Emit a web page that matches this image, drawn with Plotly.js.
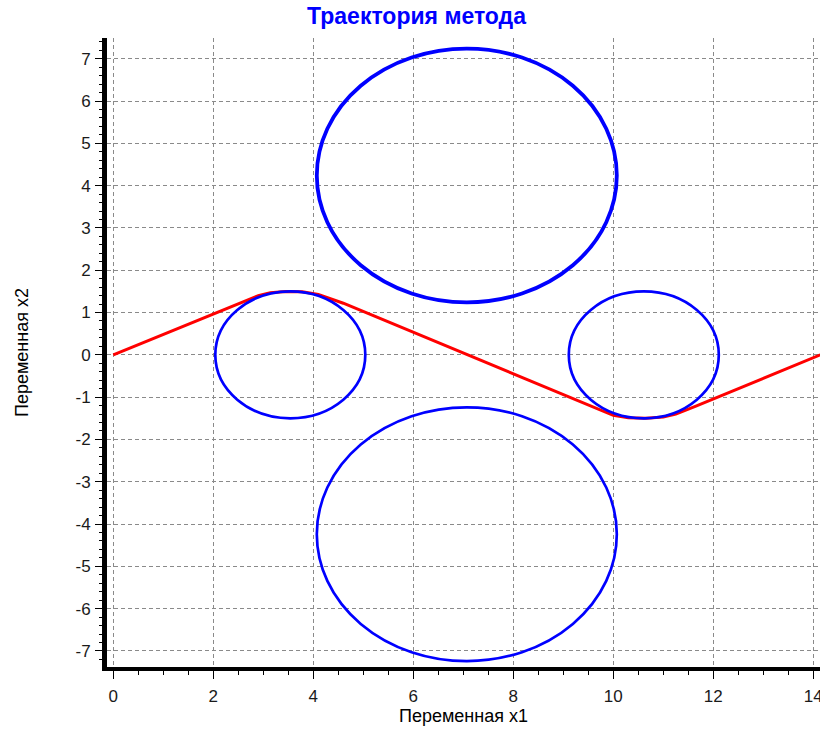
<!DOCTYPE html>
<html>
<head>
<meta charset="utf-8">
<script src="https://cdn.plot.ly/plotly-3.0.1.min.js"></script>
<style>html,body{margin:0;padding:0;background:#fff;}#chart{width:820px;height:729px;}</style>
</head>
<body>
<div id="chart"></div>
<script>
// Trajectory of the method (red line)
const pathX = [0, 2.5, 2.9, 3.14, 3.45, 3.78, 4.1, 4.6, 7.07, 9.55, 10.0, 10.3, 10.65, 11.0, 11.25, 11.64, 14.14];
const pathY = [0, 1.22, 1.4, 1.47, 1.5, 1.49, 1.43, 1.22, 0, -1.22, -1.43, -1.49, -1.5, -1.47, -1.4, -1.22, 0];

// Constraint circles (blue)
const circleCx = [3.54, 10.61, 7.07, 7.07];
const circleCy = [0, 0, 4.24, -4.24];
const circleR  = [1.5, 1.5, 3.0, 3.0];

const xTickVals = [0, 2, 4, 6, 8, 10, 12, 14];
const yTickVals = [-7, -6, -5, -4, -3, -2, -1, 0, 1, 2, 3, 4, 5, 6, 7];

const titleText = 'Траектория метода';
const xTitle = 'Переменная x1';
const yTitle = 'Переменная x2';

const circleWidths = [2.7, 2.7, 3.8, 2.7];
const shapes = circleCx.map((cx, i) => ({
  type: 'circle', xref: 'x', yref: 'y',
  x0: cx - circleR[i], x1: cx + circleR[i],
  y0: circleCy[i] - circleR[i], y1: circleCy[i] + circleR[i],
  line: {color: '#0000ff', width: circleWidths[i]},
  layer: 'above'
}));

const traces = [{
  x: pathX, y: pathY, type: 'scatter', mode: 'lines',
  line: {color: '#ff0000', width: 3}, showlegend: false, hoverinfo: 'skip'
}];

const FONT = 'Liberation Sans, Arial, sans-serif';
const tickFont = {family: FONT, size: 17, color: '#1a1a1a'};
const layout = {
  width: 820, height: 729,
  margin: {l: 107, r: 0, t: 38, b: 62},
  paper_bgcolor: '#fff', plot_bgcolor: '#fff',
  showlegend: false,
  title: {
    text: '<b>' + titleText + '</b>',
    font: {family: FONT, size: 23, color: '#0000ff'},
    x: 0.508, xref: 'container', xanchor: 'center', y: 0.9775, yref: 'container', yanchor: 'middle'
  },
  xaxis: {
    range: [-0.126, 14.134], tickvals: xTickVals, ticktext: xTickVals.map(String),
    ticks: 'outside', ticklen: 8, tickwidth: 1, tickcolor: '#000',
    ticklabelstandoff: 3, ticklabeloverflow: 'allow',
    minor: {dtick: 0.5, ticks: 'outside', ticklen: 4, tickcolor: '#000', showgrid: false},
    showgrid: true, gridcolor: '#8a8a8a', griddash: '4px,3px', gridwidth: 1,
    zeroline: false, showline: true, linecolor: '#000', linewidth: 4,
    tickfont: tickFont,
    title: {text: xTitle, font: {family: FONT, size: 18, color: '#000'}, standoff: 4},
    fixedrange: true
  },
  xaxis2: {
    overlaying: 'x', side: 'top', range: [-0.126, 14.134], tickvals: xTickVals,
    showticklabels: false, ticks: 'inside', ticklen: 7, tickcolor: '#000',
    showgrid: false, zeroline: false, showline: true, linecolor: '#000', linewidth: 1.5
  },
  yaxis: {
    range: [-7.38, 7.49], tickvals: yTickVals, ticktext: yTickVals.map(String),
    ticks: 'outside', ticklen: 7, tickwidth: 1, tickcolor: '#000',
    ticklabelstandoff: 1,
    minor: {dtick: 0.2, ticks: 'outside', ticklen: 3, tickcolor: '#000', showgrid: false},
    showgrid: true, gridcolor: '#8a8a8a', griddash: '4px,3px', gridwidth: 1,
    zeroline: false, showline: true, linecolor: '#000', linewidth: 5,
    tickfont: tickFont,
    title: {text: yTitle, font: {family: FONT, size: 18, color: '#000'}, standoff: 44},
    fixedrange: true
  },
  shapes: shapes
};

Plotly.newPlot('chart', traces, layout, {staticPlot: true, displayModeBar: false});
</script>
</body>
</html>
